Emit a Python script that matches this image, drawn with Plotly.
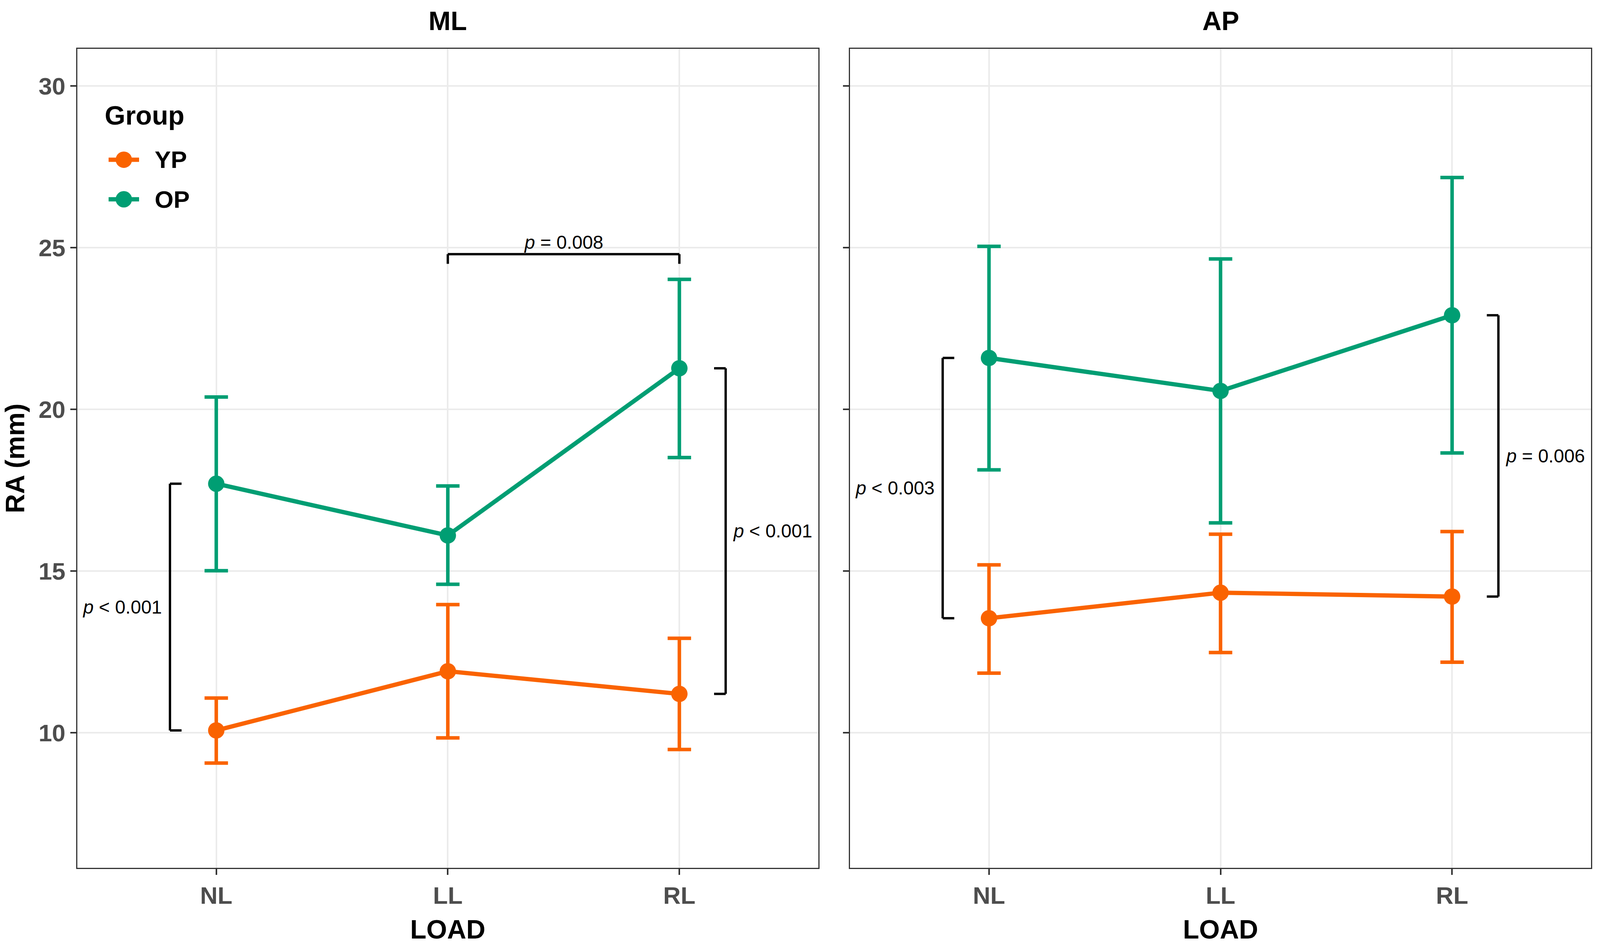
import plotly.graph_objects as go
from plotly.subplots import make_subplots

loads = ["NL", "LL", "RL"]
panels = ["ML", "AP"]
group_names = ["YP", "OP"]
group_colors = ["#FA6300", "#009E73"]

# mean and error bar ends (mm)
ml_yp_mean = [10.07, 11.90, 11.20]
ml_yp_upper = [11.07, 13.96, 12.92]
ml_yp_lower = [9.06, 9.84, 9.48]
ml_op_mean = [17.70, 16.10, 21.27]
ml_op_upper = [20.38, 17.63, 24.02]
ml_op_lower = [15.01, 14.59, 18.51]

ap_yp_mean = [13.54, 14.33, 14.21]
ap_yp_upper = [15.19, 16.14, 16.22]
ap_yp_lower = [11.84, 12.48, 12.18]
ap_op_mean = [21.59, 20.57, 22.91]
ap_op_upper = [25.04, 24.65, 27.17]
ap_op_lower = [18.13, 16.49, 18.65]

# p-value brackets between groups: (panel, side, load index, y from, y to, label)
side_brackets = [
    (1, "left", 0, ml_op_mean[0], ml_yp_mean[0], "<i>p</i> < 0.001"),
    (1, "right", 2, ml_op_mean[2], ml_yp_mean[2], "<i>p</i> < 0.001"),
    (2, "left", 0, ap_op_mean[0], ap_yp_mean[0], "<i>p</i> < 0.003"),
    (2, "right", 2, ap_op_mean[2], ap_yp_mean[2], "<i>p</i> = 0.006"),
]
# bracket between loads: (panel, from index, to index, y, label)
top_brackets = [(1, 1, 2, 24.8, "<i>p</i> = 0.008")]

data = {
    ("ML", "YP"): (ml_yp_mean, ml_yp_upper, ml_yp_lower),
    ("ML", "OP"): (ml_op_mean, ml_op_upper, ml_op_lower),
    ("AP", "YP"): (ap_yp_mean, ap_yp_upper, ap_yp_lower),
    ("AP", "OP"): (ap_op_mean, ap_op_upper, ap_op_lower),
}

FONT = "Arial, Liberation Sans, sans-serif"
W, H = 4096, 2417
ML, MR, MT, MB = 198, 23, 125, 180

fig = make_subplots(rows=1, cols=2, shared_yaxes=True, horizontal_spacing=0.021)

for col, panel in enumerate(panels, start=1):
    for name, color in zip(group_names, group_colors):
        mean, upper, lower = data[(panel, name)]
        fig.add_trace(go.Scatter(
            x=loads, y=mean, mode="lines+markers", name=name,
            legendgroup=name, showlegend=False,
            line=dict(color=color, width=11),
            marker=dict(color=color, size=42),
            error_y=dict(type="data", symmetric=False,
                         array=[u - m for u, m in zip(upper, mean)],
                         arrayminus=[m - l for m, l in zip(mean, lower)],
                         color=color, thickness=9, width=30),
        ), row=1, col=col)

bracket_line = dict(color="black", width=6)
off, tick = 0.2, 0.05
for col, side, idx, y0, y1, label in side_brackets:
    xr = "x" if col == 1 else "x2"
    yr = "y" if col == 1 else "y2"
    if side == "left":
        xv, xt, anchor, shift = idx - off, idx - off + tick, "right", -18
    else:
        xv, xt, anchor, shift = idx + off, idx + off - tick, "left", 16
    for x0, x1, ya, yb in [(xv, xv, y0, y1), (xv, xt, y0, y0), (xv, xt, y1, y1)]:
        fig.add_shape(type="line", xref=xr, yref=yr, x0=x0, x1=x1, y0=ya, y1=yb,
                      line=bracket_line)
    fig.add_annotation(xref=xr, yref=yr, x=xv, y=(y0 + y1) / 2, text=label,
                       showarrow=False, xanchor=anchor, xshift=shift,
                       font=dict(family=FONT, size=48, color="black"))

for col, i0, i1, y, label in top_brackets:
    xr = "x" if col == 1 else "x2"
    yr = "y" if col == 1 else "y2"
    for x0, x1, ya, yb in [(i0, i1, y, y), (i0, i0, y, y - 0.3), (i1, i1, y, y - 0.3)]:
        fig.add_shape(type="line", xref=xr, yref=yr, x0=x0, x1=x1, y0=ya, y1=yb,
                      line=bracket_line)
    fig.add_annotation(xref=xr, yref=yr, x=(i0 + i1) / 2, y=y, text=label,
                       showarrow=False, yanchor="bottom", yshift=2,
                       font=dict(family=FONT, size=48, color="black"))

# facet titles
for col, panel in enumerate(panels, start=1):
    fig.add_annotation(xref=("x domain" if col == 1 else "x2 domain"), yref="paper",
                       x=0.5, y=1, yanchor="bottom", yshift=32, text=panel,
                       showarrow=False,
                       font=dict(family=FONT, size=68, color="black", weight="bold"))


# legend inside the ML panel, drawn like the ggplot key (line through a big dot)
def px_x(px):
    return (px - ML) / (W - ML - MR)


def px_y(py):
    return 1 - (py - MT) / (H - MT - MB)


fig.add_annotation(xref="paper", yref="paper", x=px_x(266), y=px_y(296), text="Group",
                   showarrow=False, xanchor="left", yanchor="middle",
                   font=dict(family=FONT, size=68, color="black", weight="bold"))
for i, (name, color) in enumerate(zip(group_names, group_colors)):
    ky = px_y(411 + 102 * i)
    fig.add_shape(type="line", xref="paper", yref="paper",
                  x0=px_x(278), x1=px_x(356), y0=ky, y1=ky,
                  line=dict(color=color, width=11))
    fig.add_shape(type="circle", xref="paper", yref="paper",
                  xsizemode="pixel", ysizemode="pixel",
                  xanchor=px_x(317), yanchor=ky, x0=-21, x1=21, y0=-21, y1=21,
                  fillcolor=color, line=dict(width=0))
    fig.add_annotation(xref="paper", yref="paper", x=px_x(394), y=ky, text=name,
                       showarrow=False, xanchor="left", yanchor="middle",
                       font=dict(family=FONT, size=62, color="black", weight="bold"))

axis_style = dict(
    showline=True, linecolor="#333333", linewidth=3, mirror=True,
    showgrid=True, gridcolor="#EBEBEB", gridwidth=4,
    ticks="outside", ticklen=15, tickwidth=4, tickcolor="#333333",
    tickfont=dict(family=FONT, size=62, color="#4D4D4D", weight="bold"),
    zeroline=False,
)

fig.update_xaxes(axis_style, range=[-0.6, 2.6],
                 title=dict(text="LOAD", standoff=30,
                            font=dict(family=FONT, size=68, color="black", weight="bold")))
fig.update_yaxes(axis_style, range=[5.82, 31.15], tickvals=[10, 15, 20, 25, 30])
fig.update_yaxes(title=dict(text="RA (mm)", standoff=26,
                            font=dict(family=FONT, size=68, color="black", weight="bold")),
                 row=1, col=1)
fig.update_yaxes(showticklabels=False, row=1, col=2)

fig.update_layout(
    width=W, height=H, autosize=False,
    margin=dict(l=ML, r=MR, t=MT, b=MB),
    plot_bgcolor="white", paper_bgcolor="white",
    font=dict(family=FONT, color="black"),
    showlegend=False,
)

fig.write_html("out.html", config={"displayModeBar": False},
               post_script="document.body.style.margin = '0';")
